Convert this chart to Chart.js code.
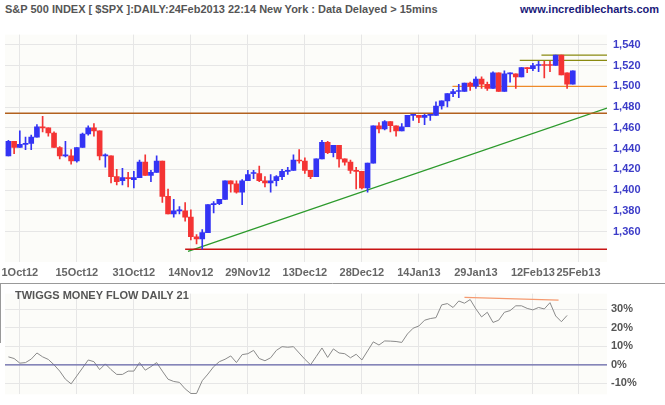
<!DOCTYPE html>
<html><head><meta charset="utf-8">
<script src="https://cdn.jsdelivr.net/npm/chart.js@4"></script>
<style>
body{margin:0;background:#fff;font-family:"Liberation Sans",Arial,sans-serif;}
#wrap{position:relative;width:665px;height:405px;}
#title{position:absolute;left:5px;top:3px;font-size:11px;font-weight:bold;color:#555;}
#site{position:absolute;right:6px;top:3px;font-size:11px;font-weight:bold;color:#1a1a7a;}
#main{position:absolute;left:0;top:22px;}
#tmf{position:absolute;left:0;top:283px;}
</style></head>
<body><div id="wrap">
<div id="title">S&amp;P 500 INDEX [ $SPX ]:DAILY:24Feb2013 22:14 New York : Data Delayed &gt; 15mins</div>
<div id="site">www.incrediblecharts.com</div>
<canvas id="main" width="665" height="261"></canvas>
<canvas id="tmf" width="665" height="122"></canvas>
</div>
<script>
// daily OHLC, 27Sep12 .. 22Feb13 (index 0..99)
const opens  = [1433,1447,1441,1444,1445,1451,1461,1460,1455,1441,1433,1433,1428,1441,1454,1460,1457,1433,1433,1413,1409,1412,
  1410,1412,1427,1414,1417,1428,1394,1377,1380,1380,1374,1355,1353,1359,1386,1387,1391,1409,1406,1398,1409,1416,
  1416,1409,1407,1409,1413,1418,1419,1429,1428,1419,1413,1430,1446,1436,1443,1430,1427,1419,1418,1402,
  1426,1462,1459,1466,1462,1457,1461,1472,1472,1470,1472,1472,1481,1486,1493,1495,1495,1503,1500,1507,1502,1498,
  1513,1495,1512,1512,1509,1518,1517,1520,1521,1521,1520,1530,1513,1502];
const highs  = [1448,1447,1457,1451,1453,1463,1471,1460,1456,1442,1447,1439,1441,1455,1462,1464,1457,1435,1433,1420,1421,1417,
  1418,1429,1434,1419,1433,1428,1401,1391,1384,1388,1381,1357,1362,1386,1389,1391,1409,1409,1409,1410,1419,1419,
  1423,1413,1415,1414,1420,1422,1434,1439,1431,1419,1430,1448,1447,1443,1443,1430,1429,1422,1418,1426,
  1462,1465,1467,1466,1462,1464,1472,1472,1472,1473,1473,1485,1486,1493,1497,1502,1503,1504,1509,1509,1504,1514,
  1513,1515,1513,1512,1518,1518,1522,1524,1524,1524,1530,1530,1513,1515];
const lows   = [1433,1435,1441,1439,1439,1451,1456,1452,1441,1430,1432,1425,1427,1441,1453,1452,1429,1422,1407,1405,1405,1403,
  1402,1412,1414,1408,1417,1388,1377,1374,1377,1370,1352,1348,1343,1359,1378,1386,1391,1398,1397,1386,1409,1411,
  1408,1403,1398,1404,1410,1415,1419,1426,1416,1411,1413,1430,1435,1432,1422,1424,1416,1401,1401,1398,
  1426,1455,1458,1456,1452,1457,1461,1467,1465,1463,1467,1472,1478,1480,1490,1489,1495,1496,1498,1498,1496,1498,
  1495,1495,1504,1498,1509,1513,1515,1514,1508,1514,1520,1511,1498,1502];
const closes = [1447,1441,1444,1445,1451,1461,1460,1455,1441,1433,1433,1428,1441,1454,1460,1457,1433,1434,1413,1408,1412,1411,
  1412,1427,1414,1417,1428,1394,1377,1380,1380,1374,1355,1353,1359,1386,1387,1391,1409,1406,1398,1409,1415,1416,
  1409,1407,1409,1413,1418,1419,1429,1428,1419,1413,1430,1446,1436,1443,1430,1427,1419,1418,1402,1426,
  1462,1459,1466,1462,1457,1461,1472,1472,1470,1472,1472,1481,1486,1493,1495,1495,1503,1500,1507,1502,1498,1513,
  1495,1512,1512,1509,1518,1517,1520,1520,1520,1520,1530,1511,1502,1515];

// twiggs money flow 21 (%)
const tmfValues = [4.3,3.4,0.9,1.2,3.1,6.4,4.3,2.9,0,-3.4,-7.8,-10.3,-6,-1.7,2.6,1.7,-2.6,0.5,-2.6,-5.2,-5.2,-3.4,-3.4,1.2,-2.9,-1,1.2,-3.4,-7.8,-9,
  -9.5,-13,-15.5,-15.5,-8.6,-5,-1,1.7,3,4.8,1.2,5.5,6,7.8,3.4,2.2,3.8,7.8,9.8,9.5,9.8,6.4,3,0,4.5,9.1,4,8.6,6.4,6,3.8,5.7,2.6,7.5,
  12.4,10.7,12.9,12.8,12.6,12.1,16.7,19.8,21,24.1,25,25.5,32.4,33.1,31,34.5,33.3,35.3,30.2,25.9,28.4,22.9,24.1,28.4,29.3,31.9,31.9,
  30.5,29.7,31,30.2,33.6,26.4,23.3,26.7];

const tickIndex  = [2,12,22,32,42,52,62,72,82,92,100];
const tickLabels = ['1Oct12','15Oct12','31Oct12','14Nov12','29Nov12','13Dec12','28Dec12','14Jan13','29Jan13','12Feb13','25Feb13'];

// drawn lines, [x index, value]
const supportLine   = [[-1,1474],[105,1474]];
const lowLine       = [[31,1343],[105,1343]];
const trendLine     = [[31.5,1341],[105,1479]];
const topLine1      = [[93.5,1530],[105,1530]];
const topLine2      = [[89.7,1525],[105,1525]];
const floorLine     = [[77.9,1500],[105,1500]];
const divergence    = [[80,36.5],[96.5,35]];

const X_MIN = -0.6, X_MAX = 105;
const BLUE = '#3434f4', RED = '#f43434', GRID = '#e6e6e6';
const FONT = {family: 'Liberation Sans', weight: 'bold', size: 11};

const colors = opens.map((o, i) => closes[i] >= o ? BLUE : RED);
const pts = a => a.map(p => ({x: p[0], y: p[1]}));
const lineDs = (d, c) => ({type: 'line', data: pts(d), borderColor: c, borderWidth: 1.3, pointRadius: 0, fill: false});

const xAxis = (h) => ({
  type: 'linear', min: X_MIN, max: X_MAX, offset: false,
  afterBuildTicks: ax => { ax.ticks = tickIndex.map(v => ({value: v})); },
  ticks: {display: false},
  grid: {color: GRID, drawTicks: false, offset: false},
  border: {display: false},
  afterFit: ax => { ax.height = h; }
});

const bg = {id: 'bg', beforeDraw(c) {
  const a = c.chartArea, g = c.ctx;
  g.save(); g.fillStyle = '#fcfcf9'; g.fillRect(a.left, a.top, a.right - a.left, a.bottom - a.top); g.restore();
}};

const xLabels = {id: 'xLabels', afterDraw(c) {
  const g = c.ctx, sx = c.scales.x, y = c.chartArea.bottom + 14;
  g.save(); g.fillStyle = '#666'; g.font = 'bold 11px "Liberation Sans"'; g.textAlign = 'center';
  tickIndex.forEach((v, i) => g.fillText(tickLabels[i], sx.getPixelForValue(v), y));
  g.restore();
}};

new Chart(document.getElementById('main'), {
  type: 'bar',
  data: {datasets: [
    {data: highs.map((h, i) => ({x: i, y: [lows[i], h]})), backgroundColor: colors, barThickness: 1, grouped: false},
    {data: opens.map((o, i) => ({x: i, y: [o, closes[i]]})), backgroundColor: colors, barThickness: 5, minBarLength: 1, grouped: false},
    lineDs(supportLine, '#b2611e'),
    lineDs(lowLine, '#c81414'),
    lineDs(trendLine, '#2c9a2c'),
    lineDs(topLine1, '#8a8a10'),
    lineDs(topLine2, '#8a8a10'),
    lineDs(floorLine, '#ee8a2a')
  ]},
  options: {
    responsive: false, animation: false,
    layout: {padding: {left: 5, top: 8, right: 0, bottom: 0}},
    plugins: {legend: {display: false}, tooltip: {enabled: false}},
    scales: {
      x: xAxis(21),
      y: {position: 'right', min: 1330.7, max: 1549.8,
        afterBuildTicks: ax => { ax.ticks = [1360,1380,1400,1420,1440,1460,1480,1500,1520,1540].map(v => ({value: v})); },
        ticks: {color: '#3c3cc8', font: FONT, padding: 6, callback: v => v.toLocaleString('en-US')},
        grid: {color: GRID, drawTicks: false}, border: {display: false},
        afterFit: ax => { ax.width = 58; }}
    }
  },
  plugins: [bg, xLabels]
});

const tmfTitle = {id: 'tmfTitle', afterDraw(c) {
  const g = c.ctx;
  g.save();
  g.strokeStyle = '#999'; g.lineWidth = 1;
  g.beginPath(); g.moveTo(0, 0.5); g.lineTo(665, 0.5); g.moveTo(0.5, 0); g.lineTo(0.5, 60); g.stroke();
  g.fillStyle = '#555'; g.font = 'bold 11px "Liberation Sans"';
  g.fillText('TWIGGS MONEY FLOW DAILY 21', 15, 16);
  g.restore();
}};

new Chart(document.getElementById('tmf'), {
  type: 'line',
  data: {datasets: [
    {data: [{x: X_MIN, y: 0}, {x: X_MAX, y: 0}], borderColor: '#6464a8', borderWidth: 1.3, pointRadius: 0},
    {data: tmfValues.map((v, i) => ({x: i, y: v})), borderColor: '#8a8a8a', borderWidth: 1, pointRadius: 0, tension: 0},
    lineDs(divergence, '#f59a70')
  ]},
  options: {
    responsive: false, animation: false,
    layout: {padding: {left: 5, top: 1, right: 0, bottom: 7}},
    plugins: {legend: {display: false}, tooltip: {enabled: false}},
    scales: {
      x: xAxis(1),
      y: {position: 'right', min: -16, max: 38.5,
        afterBuildTicks: ax => { ax.ticks = [-10,0,10,20,30].map(v => ({value: v})); },
        ticks: {color: '#555', font: FONT, padding: 4, callback: v => v + '%'},
        grid: {color: GRID, drawTicks: false}, border: {display: false},
        afterFit: ax => { ax.width = 58; }}
    }
  },
  plugins: [bg, tmfTitle]
});
</script>
</body></html>
